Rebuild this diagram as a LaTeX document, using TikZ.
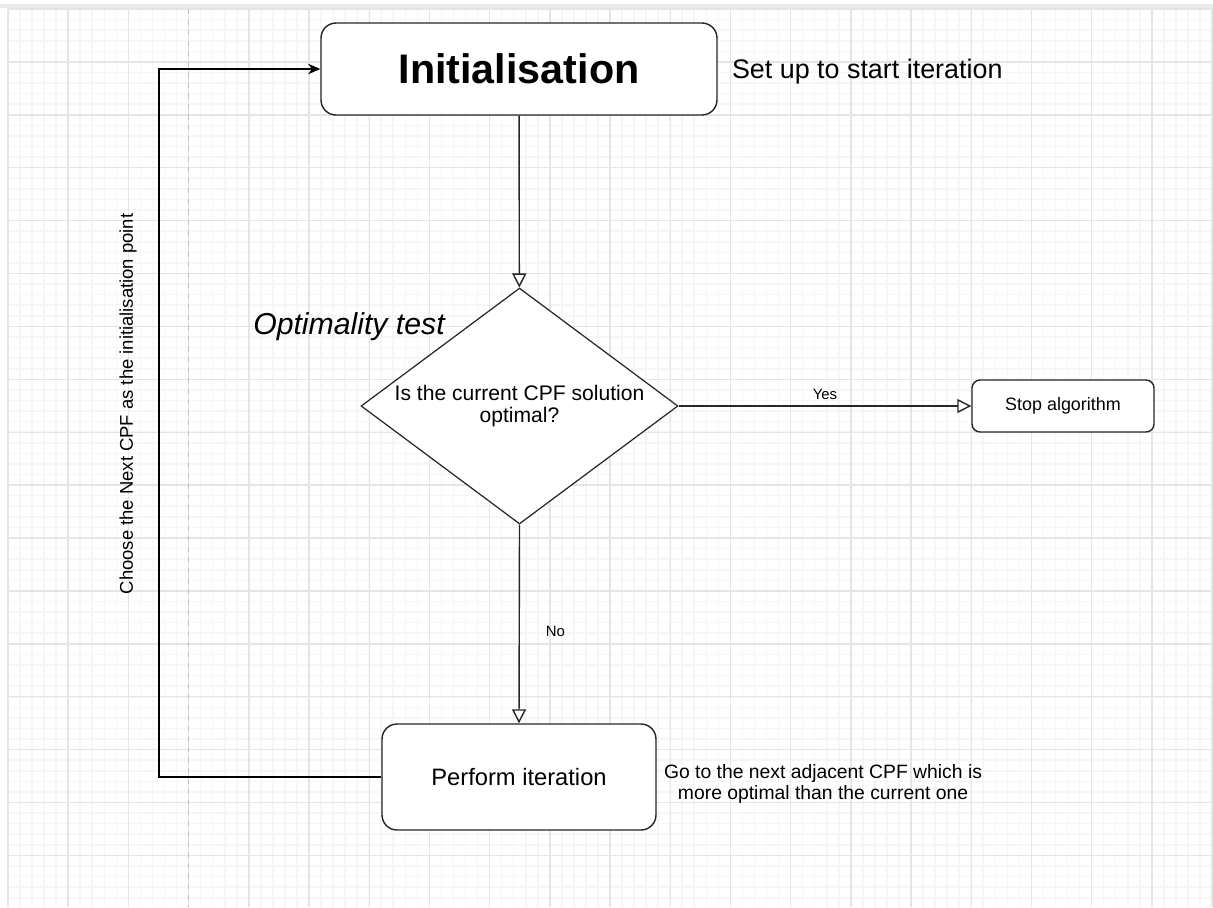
\documentclass[tikz,border=0pt]{standalone}
\usepackage{fontspec}
\setmainfont{Liberation Sans}
\usetikzlibrary{arrows.meta,positioning,shapes.geometric}

\begin{document}
\begin{tikzpicture}[
    x=0.02cm, y=-0.02cm,
    minorline/.style={draw=black!3.5, line width=0.9pt},
    majorline/.style={draw=black!10, line width=0.8pt},
    pageline/.style={draw=black!25, line width=0.6pt, dashed},
    block/.style={rectangle, rounded corners=0.3cm, draw=black!85, line width=0.8pt, fill=white, align=center},
    decision/.style={diamond, aspect=1.34, draw=black!85, line width=0.7pt, fill=white, align=center, inner sep=0pt, minimum width=6.34cm, minimum height=4.72cm},
    note/.style={inner sep=0pt, align=center},
    edgelabel/.style={font=\fontsize{8.5}{10}\selectfont},
    flow/.style={-{Triangle[fill=white, length=8pt, width=8pt]}, line width=0.8pt, draw=black!85},
    back/.style={-{Stealth[length=7pt, width=6pt]}, line width=0.8pt}
]
\useasboundingbox (0,0) rectangle (1213,907);

% Background grid
\fill[black!8] (0,4) rectangle (1213,8);
\foreach \i in {0,...,100}
    \draw[minorline] ({8+12.04*\i},9) -- ({8+12.04*\i},907);
\foreach \j in {0,...,84}
    \draw[minorline] (8,{9+10.58*\j}) -- (1213,{9+10.58*\j});
\foreach \i in {0,...,20}
    \draw[majorline] ({8+60.2*\i},9) -- ({8+60.2*\i},907);
\foreach \j in {0,...,16}
    \draw[majorline] (8,{9+52.9*\j}) -- (1213,{9+52.9*\j});
\draw[pageline] (188.6,9) -- (188.6,907);

% Blocks
\node[block, minimum width=7.92cm, minimum height=1.84cm, font=\fontsize{23.5}{28}\selectfont\bfseries] (init) at (519,69) {Initialisation};
\node[decision, font=\fontsize{12}{13}\selectfont] (test) at (519.5,406) {Is the current CPF solution\\optimal?};
\node[block, rounded corners=0.16cm, minimum width=3.64cm, minimum height=1.04cm, font=\fontsize{10.2}{12}\selectfont] (stop) at (1063,406) {\raisebox{-2pt}{Stop algorithm}};
\node[block, minimum width=5.48cm, minimum height=2.12cm, font=\fontsize{13.5}{16}\selectfont] (iter) at (519,777) {Perform iteration};

% Notes
\node[note, right=0.28cm of init, yshift=-0.06cm, font=\fontsize{15.3}{18}\selectfont] (initnote) {Set up to start iteration};
\node[note, font=\fontsize{17.2}{20}\selectfont\itshape] (testnote) at (349,327) {Optimality test};
\node[note, right=0.14cm of iter, yshift=-0.14cm, font=\fontsize{11}{12.5}\selectfont] (iternote) {Go to the next adjacent CPF which is\\more optimal than the current one};
\node[note, rotate=90, font=\fontsize{10.5}{12}\selectfont] (loopnote) at (128,404) {Choose the Next CPF as the initialisation point};

% Connectors
\coordinate (loopcorner) at (159,777);
\draw[flow] (init) -- (test);
\draw[flow] (test.east) -- (stop.west) node[edgelabel, midway, above] {Yes};
\draw[flow] (test.south) -- (iter.north) node[edgelabel, pos=0.54, right=0.4cm] {No};
\draw[back] (iter.west) -- (loopcorner) |- (init.west);

\end{tikzpicture}
\end{document}
